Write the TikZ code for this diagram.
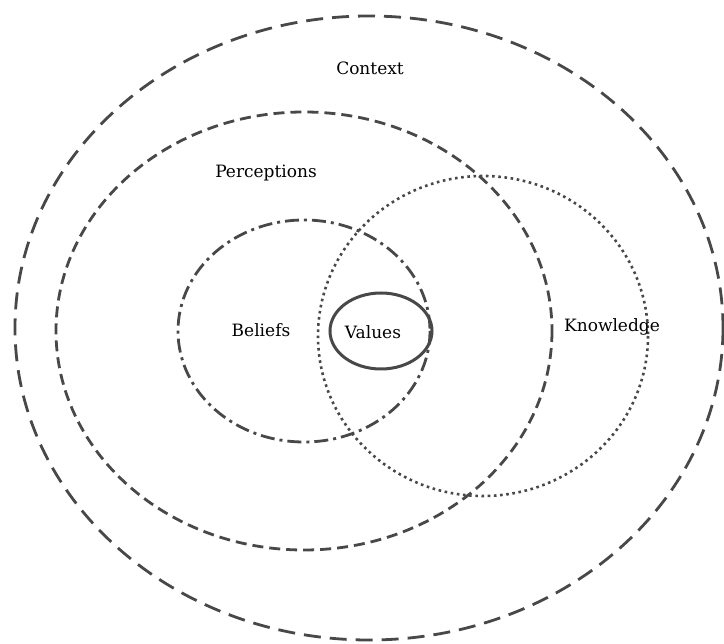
\documentclass[tikz,border=0pt]{standalone}
\usepackage{fontspec}
\setmainfont{DejaVu Serif}
\definecolor{ring}{HTML}{484848}
\tikzset{
  ringline/.style={draw=ring, line width=2.8pt},
  label/.style={font=\fontsize{17}{20}\selectfont, text=black},
}
\begin{document}
\begin{tikzpicture}[x=1pt, y=-1pt]
  \useasboundingbox (0,0) rectangle (724,644);
  % Context
  \draw[ringline, dash pattern=on 17pt off 9pt] (369,328) ellipse [x radius=354, y radius=312];
  % Perceptions
  \draw[ringline, dash pattern=on 11pt off 6pt] (304,331) ellipse [x radius=248, y radius=219];
  % Beliefs
  \draw[ringline, dash pattern=on 14pt off 5pt on 3pt off 5pt] (304,331) ellipse [x radius=126, y radius=111];
  % Knowledge
  \draw[ringline, line width=2.6pt, dash pattern=on 2.6pt off 3.6pt] (483,336) ellipse [x radius=165, y radius=160];
  % Values
  \draw[ringline, line width=3pt] (381,331) ellipse [x radius=51, y radius=38];

  \node[label] (context) at (370,68) {Context};
  \node[label] (perceptions) at (266,173) {Perceptions};
  \node[label] (beliefs) at (261,330) {Beliefs};
  \node[label] (values) at (373,332) {Values};
  \node[label] (knowledge) at (612,327) {Knowledge};
\end{tikzpicture}
\end{document}
